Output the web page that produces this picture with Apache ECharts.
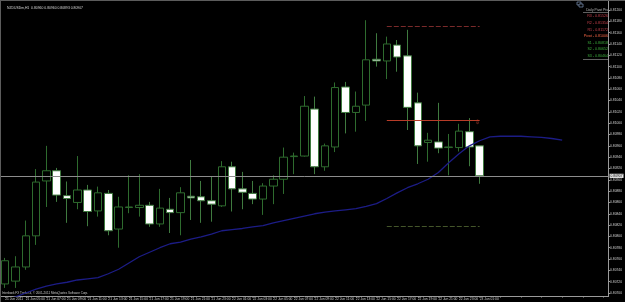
<!DOCTYPE html>
<html>
<head>
<meta charset="utf-8">
<script src="https://cdn.jsdelivr.net/npm/echarts@6/dist/echarts.min.js"></script>
<style>
  html, body { margin: 0; padding: 0; background: #000; }
  #chart { width: 625px; height: 302px; }
  #frame { position: absolute; left: 0; top: 0; width: 625px; height: 302px; box-sizing: border-box;
           border-top: 1px solid #5c5c5c; border-left: 1px solid #5c5c5c; pointer-events: none; }
</style>
</head>
<body>
<div id="chart"></div>
<div id="frame"></div>
<script>
// NZDUSDm H1, 21 Jun 03:00 .. 23 Jun 01:00
const barTimes = [
  '21 Jun 2011', '21 Jun 04:00', '21 Jun 05:00', '21 Jun 06:00', '21 Jun 07:00', '21 Jun 08:00',
  '21 Jun 09:00', '21 Jun 10:00', '21 Jun 11:00', '21 Jun 12:00', '21 Jun 13:00', '21 Jun 14:00',
  '21 Jun 15:00', '21 Jun 16:00', '21 Jun 17:00', '21 Jun 18:00', '21 Jun 19:00', '21 Jun 20:00',
  '21 Jun 21:00', '21 Jun 22:00', '21 Jun 23:00', '22 Jun 00:00', '22 Jun 01:00', '22 Jun 02:00',
  '22 Jun 03:00', '22 Jun 04:00', '22 Jun 05:00', '22 Jun 06:00', '22 Jun 07:00', '22 Jun 08:00',
  '22 Jun 09:00', '22 Jun 10:00', '22 Jun 11:00', '22 Jun 12:00', '22 Jun 13:00', '22 Jun 14:00',
  '22 Jun 15:00', '22 Jun 16:00', '22 Jun 17:00', '22 Jun 18:00', '22 Jun 19:00', '22 Jun 20:00',
  '22 Jun 21:00', '22 Jun 22:00', '22 Jun 23:00', '23 Jun 00:00', '23 Jun 01:00'
]
const emptySlots = 12 // chart shift on the right

const opens = [0.80716, 0.80721, 0.80746, 0.80801, 0.80898, 0.80916, 0.80872, 0.80860, 0.80882, 0.80845,
  0.80876, 0.80813, 0.80851, 0.80851, 0.80855, 0.80822, 0.80848, 0.80842, 0.80871, 0.80870,
  0.80863, 0.80854, 0.80923, 0.80884, 0.80876, 0.80866, 0.80889, 0.80901, 0.80941, 0.80942,
  0.81025, 0.80923, 0.80958, 0.81064, 0.81019, 0.81032, 0.81113, 0.81110, 0.81138, 0.81119,
  0.81036, 0.80966, 0.80967, 0.80957, 0.80957, 0.80985, 0.80960]
const highs = [0.80762, 0.80765, 0.80828, 0.80919, 0.80960, 0.80921, 0.80897, 0.80942, 0.80891, 0.80888,
  0.80882, 0.80870, 0.80908, 0.80910, 0.80861, 0.80884, 0.80868, 0.80887, 0.80935, 0.80898,
  0.80905, 0.80933, 0.80932, 0.80914, 0.80898, 0.80894, 0.80908, 0.80957, 0.80948, 0.81048,
  0.81047, 0.80964, 0.81072, 0.81073, 0.81056, 0.81182, 0.81159, 0.81153, 0.81147, 0.81165,
  0.81054, 0.80983, 0.81036, 0.80981, 0.80999, 0.81009, 0.80960]
const lows = [0.80709, 0.80709, 0.80741, 0.80785, 0.80852, 0.80861, 0.80824, 0.80848, 0.80818, 0.80835,
  0.80802, 0.80780, 0.80841, 0.80835, 0.80817, 0.80817, 0.80806, 0.80802, 0.80829, 0.80824,
  0.80826, 0.80852, 0.80844, 0.80848, 0.80857, 0.80838, 0.80857, 0.80875, 0.80910, 0.80941,
  0.80910, 0.80916, 0.80949, 0.80982, 0.80985, 0.81004, 0.81100, 0.81078, 0.81091, 0.80988,
  0.80928, 0.80932, 0.80947, 0.80908, 0.80950, 0.80924, 0.80893]
const closes = [0.80757, 0.80746, 0.80801, 0.80896, 0.80916, 0.80873, 0.80867, 0.80882, 0.80844, 0.80877,
  0.80810, 0.80852, 0.80852, 0.80855, 0.80822, 0.80850, 0.80842, 0.80877, 0.80868, 0.80863,
  0.80857, 0.80923, 0.80884, 0.80878, 0.80866, 0.80889, 0.80901, 0.80940, 0.80942, 0.81030,
  0.80923, 0.80960, 0.81063, 0.81019, 0.81030, 0.81112, 0.81110, 0.81140, 0.81117, 0.81028,
  0.80960, 0.80970, 0.80956, 0.80958, 0.80986, 0.80958, 0.80907]

// moving average, drawn shifted forward past the last bar
const maValues = [0.80688, 0.80693, 0.80700, 0.80707, 0.80712, 0.80716, 0.80719, 0.80723, 0.80725, 0.80727,
  0.80734, 0.80742, 0.80753, 0.80764, 0.80772, 0.80780, 0.80787, 0.80790, 0.80795, 0.80799,
  0.80804, 0.80810, 0.80812, 0.80814, 0.80817, 0.80819, 0.80824, 0.80828, 0.80832, 0.80836,
  0.80840, 0.80843, 0.80845, 0.80847, 0.80849, 0.80853, 0.80858, 0.80867, 0.80877, 0.80886,
  0.80893, 0.80901, 0.80913, 0.80930, 0.80946, 0.80960, 0.80969, 0.80976, 0.80977, 0.80977,
  0.80977, 0.80976, 0.80975, 0.80973, 0.80970]

const pivotNames = ['R3', 'R2', 'R1', 'Pivot', 'S1', 'S2', 'S3']
const pivotValues = [0.81526, 0.81354, 0.81172, 0.81006, 0.80818, 0.80652, 0.80464]
const pivotFromBar = 37
const pivotToBar = 46

const symbol = 'NZDUSDm,H1'
const FONT = 'Liberation Sans'

const categories = barTimes.concat(new Array(emptySlots).fill(''))
const candleData = opens.map((o, i) => [o, closes[i], lows[i], highs[i]])
const last = opens.length - 1
const bid = closes[last]
const header = symbol + '  ' + [opens[last], highs[last], lows[last], closes[last]].map(v => v.toFixed(5)).join(' ')

const segment = (value, style, label) => [
  { coord: [pivotFromBar, value], lineStyle: style, label: label || { show: false } },
  { coord: [pivotToBar, value] }
]

const pivotColors = ['#c8404c', '#c8404c', '#c8404c', '#ff6a48', '#3cae3c', '#3cae3c', '#3cae3c']
const panelTexts = pivotNames.map((n, i) => ({
  type: 'text',
  x: 608,
  y: 16.3 + i * 6.6,
  style: {
    text: n + ' - ' + pivotValues[i].toFixed(5),
    fill: pivotColors[i],
    font: '3.6px ' + FONT,
    align: 'right',
    verticalAlign: 'middle'
  }
}))

const chart = echarts.init(document.getElementById('chart'))

const option = {
  backgroundColor: '#000000',
  animation: false,
  title: {
    text: header,
    left: 2,
    top: 1.5,
    textStyle: { color: '#d8d8d8', fontSize: 3.4, fontWeight: 'normal', fontFamily: FONT }
  },
  grid: { left: -4.2, right: 13, top: 0, bottom: 6 },
  xAxis: {
    type: 'category',
    data: categories,
    boundaryGap: true,
    axisLine: { lineStyle: { color: '#9a9a9a', width: 1 } },
    axisTick: { show: true, interval: 1, alignWithLabel: true, length: 1.5, lineStyle: { color: '#9a9a9a' } },
    axisLabel: { interval: 1, align: 'left', color: '#d0d0d0', fontSize: 3.3, margin: 1.5, fontFamily: FONT },
    splitLine: { show: false }
  },
  yAxis: {
    type: 'value',
    position: 'right',
    min: 0.806947,
    max: 0.812177,
    splitNumber: 26,
    axisLine: { show: true, lineStyle: { color: '#9a9a9a' } },
    axisTick: { show: true, length: 1.5, lineStyle: { color: '#9a9a9a' } },
    axisLabel: {
      color: '#d0d0d0', fontSize: 3.3, margin: 1.5, fontFamily: FONT,
      showMinLabel: false, showMaxLabel: false,
      formatter: v => v.toFixed(5)
    },
    splitLine: { show: false }
  },
  graphic: [
    { type: 'rect', shape: { x: 577, y: 2, width: 4, height: 3 }, style: { fill: 'none', stroke: '#7f95b8', lineWidth: 0.7 } },
    { type: 'rect', shape: { x: 579, y: 4, width: 4, height: 3 }, style: { fill: '#000', stroke: '#7f95b8', lineWidth: 0.7 } },
    { type: 'text', x: 608, y: 10, style: { text: 'Daily Pivot Pts', fill: '#b8b8b8', font: '3.4px ' + FONT, align: 'right', verticalAlign: 'middle' } },
    { type: 'line', shape: { x1: 583, y1: 12.5, x2: 609, y2: 12.5 }, style: { stroke: '#8a8a8a', lineWidth: 0.7 } },
    ...panelTexts,
    { type: 'line', shape: { x1: 583, y1: 59.5, x2: 609, y2: 59.5 }, style: { stroke: '#8a8a8a', lineWidth: 0.7 } },
    { type: 'text', x: 2, y: 293, style: { text: 'Interbank FX Trader 4, \u00a9 2001-2011 MetaQuotes Software Corp.', fill: '#c8c8c8', font: '3px ' + FONT, verticalAlign: 'middle' } }
  ],
  series: [
    {
      type: 'candlestick',
      data: candleData,
      barWidth: 8,
      itemStyle: {
        color: '#000000',
        color0: '#ffffff',
        borderColor: '#2e6b2e',
        borderColor0: '#3f7a3f',
        borderWidth: 1
      },
      markLine: {
        silent: true,
        precision: 5,
        symbol: ['none', 'none'],
        data: [
          {
            yAxis: bid,
            lineStyle: { color: '#8c8c8c', width: 1, type: 'solid' },
            label: {
              show: true, position: 'end', distance: 1, formatter: () => bid.toFixed(5),
              color: '#000', backgroundColor: '#e8e8e8', fontSize: 3.3, padding: [0.6, 1], fontFamily: FONT
            }
          },
          segment(pivotValues[2], { color: '#7a2a2a', width: 1, type: [5, 2] }),
          segment(pivotValues[3], { color: '#b83c28', width: 1, type: 'solid' },
            { show: true, position: 'insideEndBottom', distance: 0, formatter: '\u21e9', color: '#c84030', fontSize: 6 }),
          segment(pivotValues[4], { color: '#44552a', width: 1, type: [5, 2] })
        ]
      }
    },
    {
      type: 'line',
      data: maValues,
      symbol: 'none',
      z: 3,
      lineStyle: { color: '#1c1c86', width: 1.3 }
    }
  ]
}

chart.setOption(option)
</script>
</body>
</html>
